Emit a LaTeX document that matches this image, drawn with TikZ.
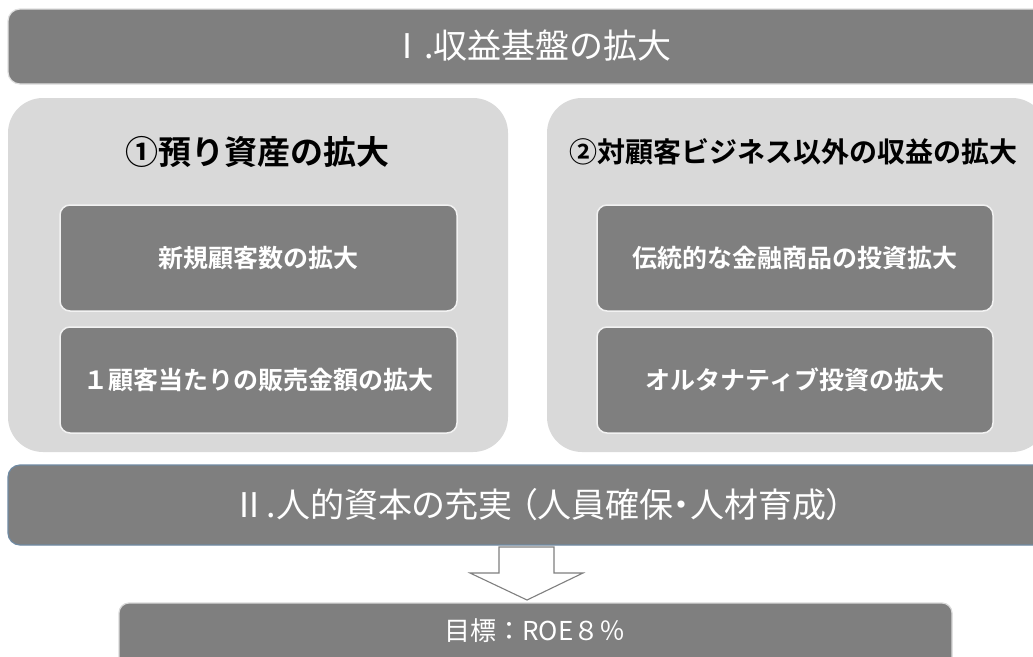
\documentclass[tikz,border=0pt]{standalone}
\usepackage{fontspec}
\newfontfamily\jp{Noto Sans CJK JP}
\newfontfamily\jpp[RawFeature=+palt]{Noto Sans CJK JP}
\newfontfamily\jpb{Noto Sans CJK JP Bold}
\definecolor{dark}{HTML}{7F7F7F}
\definecolor{panel}{HTML}{D9D9D9}
\definecolor{barline}{HTML}{6F8AA3}
\tikzset{
  bar/.style={draw=barline, line width=1.2pt, fill=dark, rounded corners=12pt, minimum width=1039pt},
  topbar/.style={draw=white!88!black, line width=1.2pt, fill=dark, rounded corners=12pt, minimum width=1039pt, minimum height=75pt},
  panelbox/.style={fill=panel, draw=none, rounded corners=35pt, minimum width=500pt, minimum height=354pt},
  innerbox/.style={fill=dark, draw=white!95!black, line width=1.5pt, rounded corners=10pt, minimum height=106pt},
  wtext/.style={text=white, inner sep=0pt},
  btext/.style={text=black, inner sep=0pt},
}
\begin{document}
\begin{tikzpicture}[x=1pt,y=-1pt]
\useasboundingbox (0,0) rectangle (1033,656);
\fill[white] (0,0) rectangle (1033,656);
\begin{scope}
\clip (0,0) rectangle (1033,656);
% top bar
\node[topbar] (top) at (527.5,46.5) {};
\node[wtext, font=\jp\fontsize{34}{40}\selectfont] (toptxt) at (531,46) {Ⅰ.収益基盤の拡大};
% panels
\node[panelbox] (lp) at (258,275) {};
\node[panelbox] (rp) at (797,275) {};
\node[btext, font=\jpb\fontsize{33}{40}\selectfont] (lpt) at (257,152) {①預り資産の拡大};
\node[btext, font=\jpb\fontsize{28}{34}\selectfont] (rpt) at (793,152) {②対顧客ビジネス以外の収益の拡大};
% inner boxes
\node[innerbox, minimum width=397pt] (l1) at (258.5,258) {};
\node[wtext, font=\jpb\fontsize{25}{30}\selectfont] at (l1) {新規顧客数の拡大};
\node[innerbox, minimum width=397pt] (l2) at (258.5,380) {};
\node[wtext, font=\jpb\fontsize{25}{30}\selectfont] at (l2) {１顧客当たりの販売金額の拡大};
\node[innerbox, minimum width=396pt] (r1) at (795,258) {};
\node[wtext, font=\jpb\fontsize{25}{30}\selectfont] at (r1) {伝統的な金融商品の投資拡大};
\node[innerbox, minimum width=396pt] (r2) at (795,380) {};
\node[wtext, font=\jpb\fontsize{25}{30}\selectfont] at (r2) {オルタナティブ投資の拡大};
% bar II
\node[bar, minimum height=80pt] (b2) at (527.5,505) {};
\node[wtext, font=\jpp\fontsize{34}{40}\selectfont] (b2t) at (538,505) {Ⅱ.人的資本の充実 （人員確保・人材育成）};
% goal
\node[bar, draw=white!85!black, minimum width=833pt, minimum height=74pt, rounded corners=10pt] (goal) at (535.5,640) {};
\node[wtext, font=\jp\fontsize{26}{30}\selectfont] (goalt) at (535,631) {目標：ROE８％};
% block arrow
\draw[dark, line width=1.1pt, fill=white, line join=miter]
  (499,547) -- (554,547) -- (554,573) -- (583,573) -- (527,600) -- (470,573) -- (499,573) -- cycle;
\end{scope}
\end{tikzpicture}
\end{document}
